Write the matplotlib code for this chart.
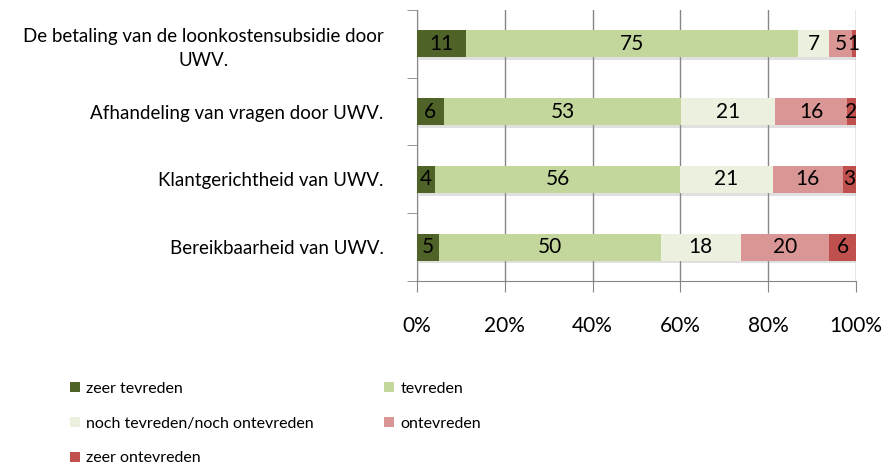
import numpy as np
import matplotlib.pyplot as plt
import matplotlib.patheffects as pe
from matplotlib.patches import Patch

plt.rcParams['font.family'] = ['Lato', 'DejaVu Sans']

# DATA
categories = ['De betaling van de loonkostensubsidie door\nUWV.',
              'Afhandeling van vragen door UWV.',
              'Klantgerichtheid van UWV.',
              'Bereikbaarheid van UWV.']
series_names = ['zeer tevreden', 'tevreden', 'noch tevreden/noch ontevreden',
                'ontevreden', 'zeer ontevreden']
zeer_tevreden = [11, 6, 4, 5]
tevreden = [75, 53, 56, 50]
noch = [7, 21, 21, 18]
ontevreden = [5, 16, 16, 20]
zeer_ontevreden = [1, 2, 3, 6]
colors = ['#4F6228', '#C3D69B', '#EBF1DE', '#D99694', '#C0504D']
x_ticks = [0, 20, 40, 60, 80, 100]

values = np.array([zeer_tevreden, tevreden, noch, ontevreden, zeer_ontevreden], dtype=float)
shares = values / values.sum(axis=0) * 100

fig = plt.figure(figsize=(8.9, 4.7), dpi=100)
ax = fig.add_axes([0.4685, 0.402, 0.4933, 0.577])

ypos = np.arange(len(categories))
left = np.zeros(len(categories))
shadow = [pe.SimplePatchShadow(offset=(1.5, -2), shadow_rgbFace='#999999', alpha=0.3), pe.Normal()]
for i in range(len(series_names)):
    ax.barh(ypos, shares[i], left=left, height=0.4, color=colors[i],
            zorder=3, path_effects=shadow)
    for j in range(len(categories)):
        ax.text(left[j] + shares[i][j] / 2, ypos[j], str(int(values[i][j])),
                ha='center', va='center', fontsize=15, color='black', zorder=4)
    left += shares[i]

ax.set_xlim(0, 100)
ax.set_ylim(len(categories) - 0.5, -0.5)
ax.set_xticks(x_ticks)
ax.set_xticklabels([str(t) + '%' for t in x_ticks], fontsize=15)
ax.set_yticks(ypos)
ax.set_yticklabels(categories, fontsize=13.5, ha='right', multialignment='center',
                   linespacing=1.5)
ax.set_yticks(np.arange(len(categories) + 1) - 0.5, minor=True)
ax.tick_params(axis='y', which='major', length=0, pad=24)
ax.tick_params(axis='y', which='minor', length=7, color='#868686', direction='out')
ax.tick_params(axis='x', which='major', length=8, color='#868686', direction='out', pad=17)
ax.grid(axis='x', color='#868686', linewidth=1, zorder=0)

for s in ['top', 'right']:
    ax.spines[s].set_visible(False)
for s in ['left', 'bottom']:
    ax.spines[s].set_color('#868686')

order = [0, 2, 4, 1, 3]
proxies = [Patch(facecolor=colors[k]) for k in order]
fig.legend(proxies, [series_names[k] for k in order],
           loc='upper left', bbox_to_anchor=(0.063, 0.218), ncol=2, frameon=False,
           fontsize=11.5, handlelength=0.6, handleheight=0.6, handletextpad=0.4,
           columnspacing=4.4, labelspacing=1.3)

fig.savefig('out.png', dpi=100)
